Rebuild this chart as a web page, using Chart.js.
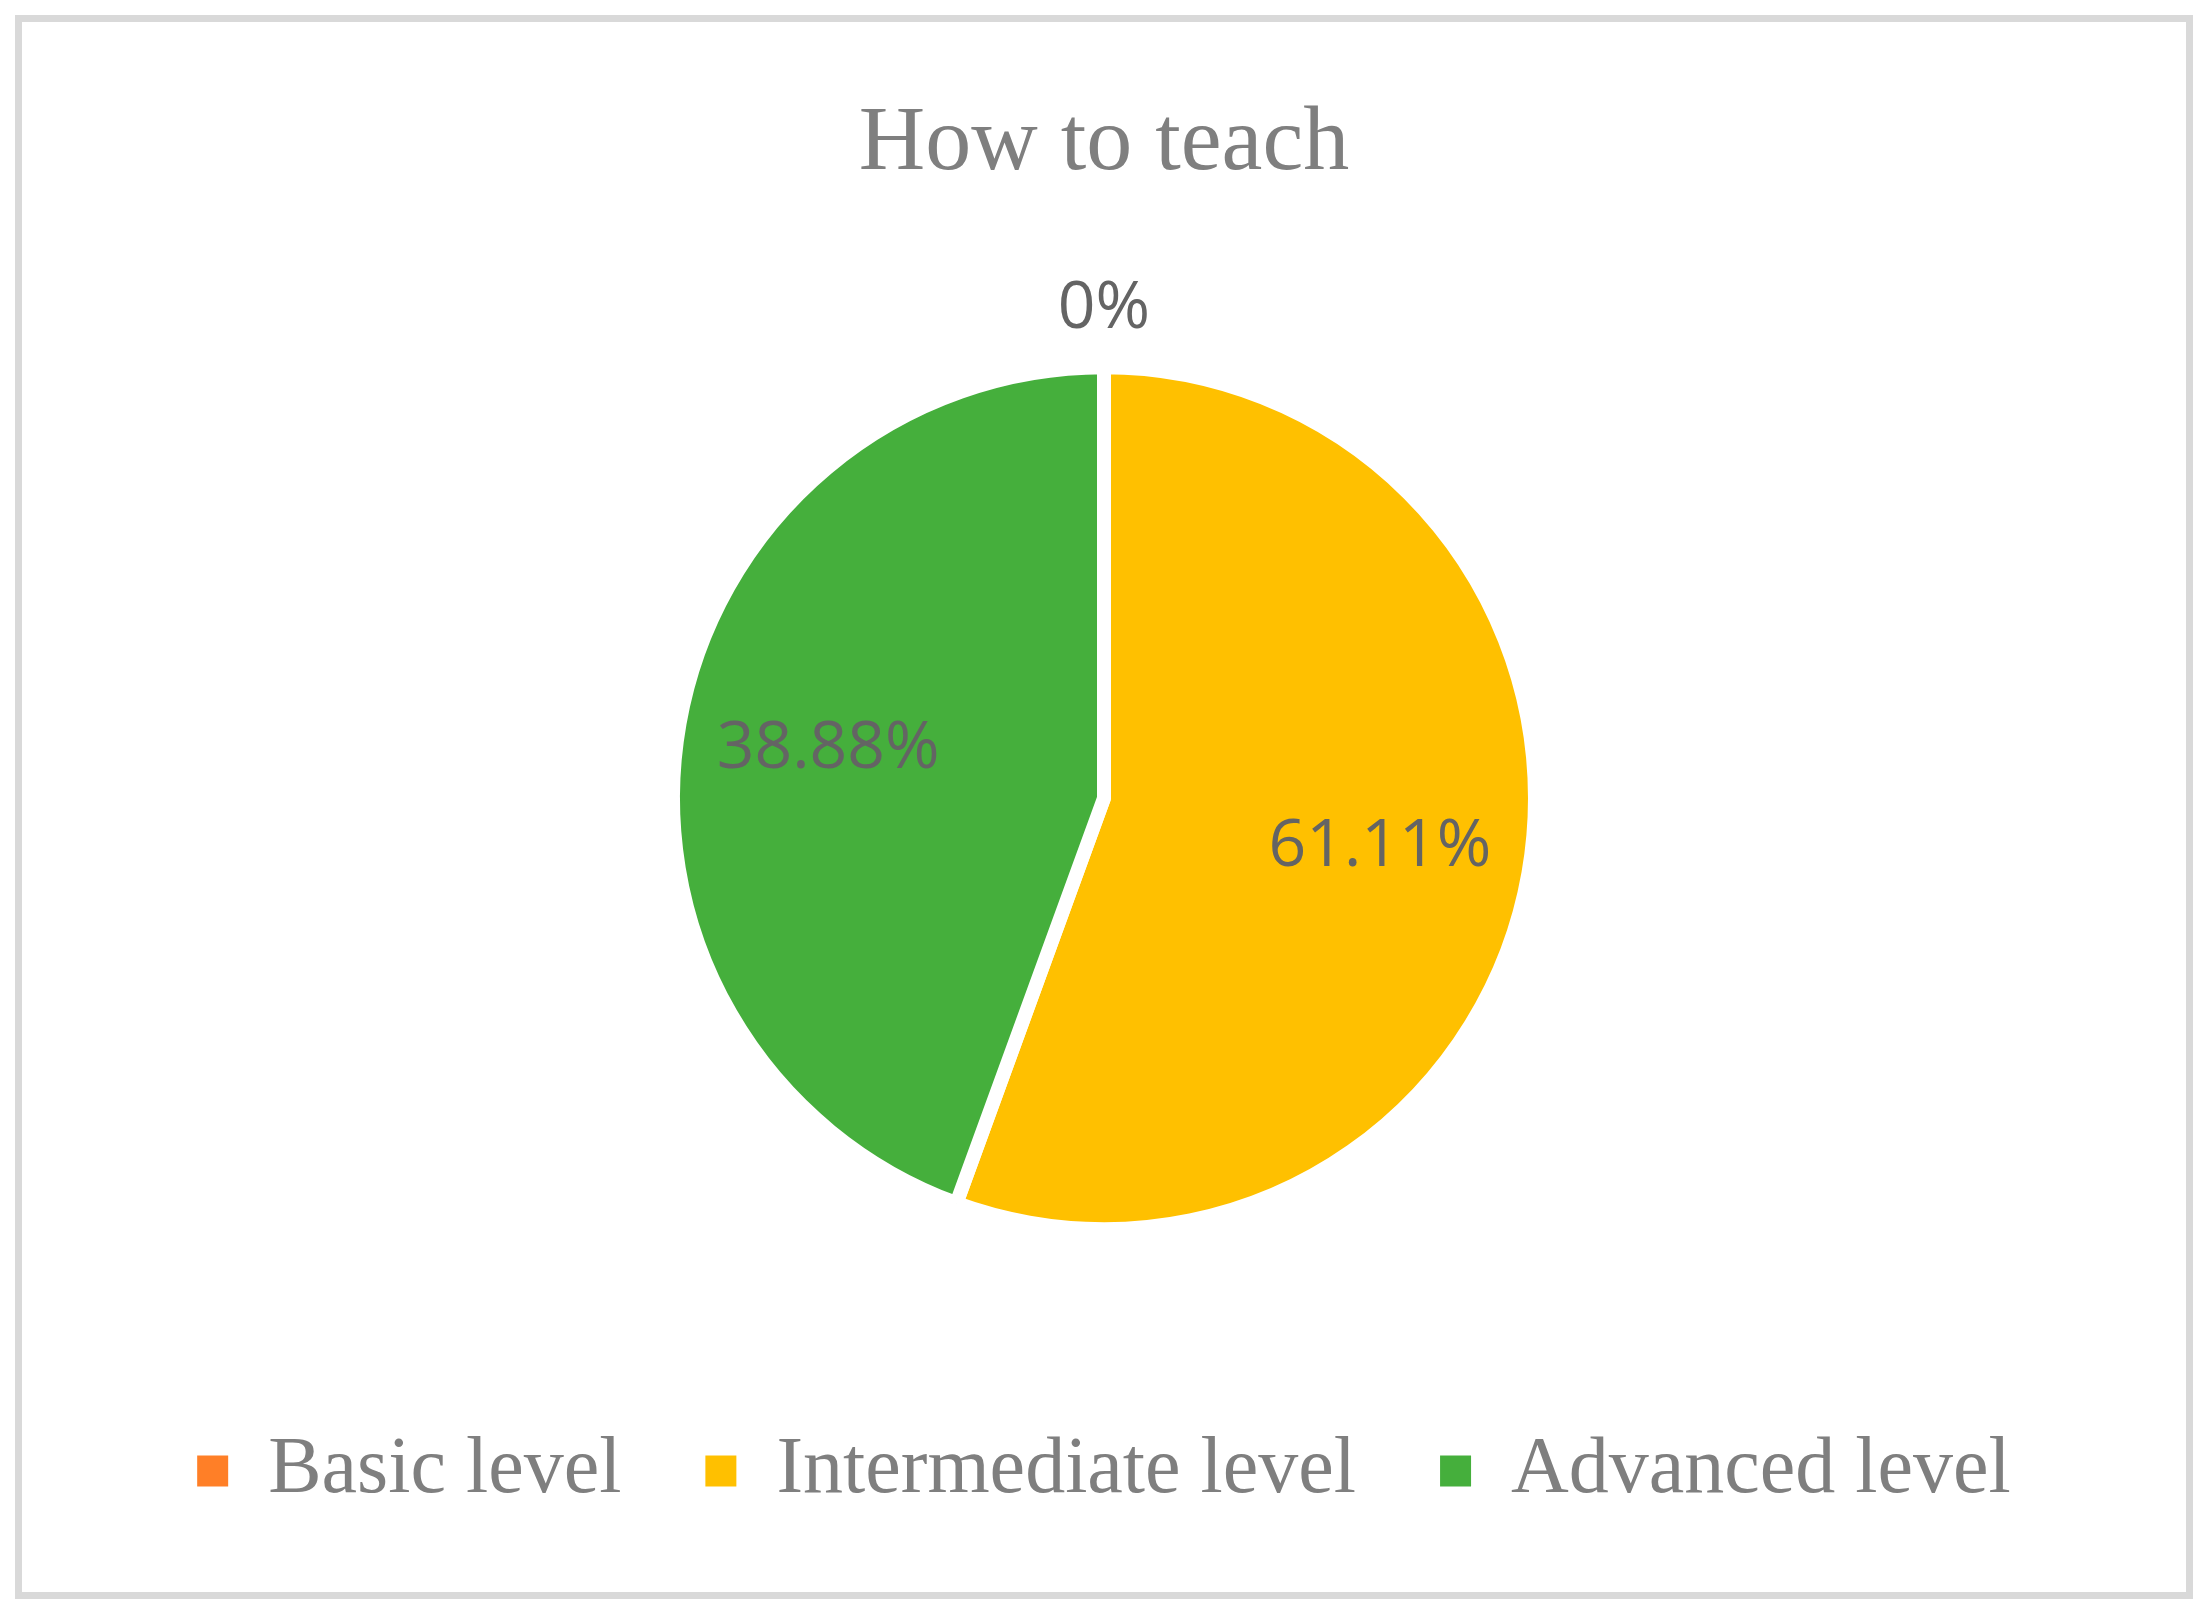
<!DOCTYPE html>
<html>
<head>
<meta charset="utf-8">
<script src="https://cdn.jsdelivr.net/npm/chart.js@4.4.0/dist/chart.umd.min.js"></script>
<style>
  html, body { margin: 0; padding: 0; background: #fff; }
  #frame {
    position: absolute; left: 15px; top: 15px;
    width: 2178px; height: 1584px;
    box-sizing: border-box; border: 7px solid #d9d9d9;
  }
  #chart { display: block; }
</style>
</head>
<body>
<div id="frame"><canvas id="chart" width="2164" height="1570"></canvas></div>
<script>
// categories and values (slice sizes as drawn, printed labels as shown)
const categories = ["Basic level", "Intermediate level", "Advanced level"];
const values = [0, 55.56, 44.44];
const sliceLabels = ["0%", "61.11%", "38.88%"];
const colors = ["#FF7F27", "#FFC000", "#45AF3C"];

const sliceLabelPlugin = {
  id: "sliceLabels",
  afterDatasetsDraw(chart) {
    const ctx = chart.ctx;
    const meta = chart.getDatasetMeta(0);
    ctx.save();
    ctx.font = '66px "Open Sans"';
    ctx.fillStyle = "#646464";
    ctx.textAlign = "center";
    ctx.textBaseline = "middle";
    meta.data.forEach((arc, i) => {
      const p = arc.getProps(["x", "y", "startAngle", "endAngle", "outerRadius"], true);
      const mid = (p.startAngle + p.endAngle) / 2;
      const dist = values[i] === 0 ? p.outerRadius + 58 : p.outerRadius * 0.65;
      ctx.fillText(sliceLabels[i], p.x + Math.cos(mid) * dist, p.y + Math.sin(mid) * dist);
    });
    ctx.restore();
  }
};

const ctx = document.getElementById("chart").getContext("2d");
new Chart(ctx, {
  type: "pie",
  data: {
    labels: categories,
    datasets: [{
      data: values,
      backgroundColor: colors,
      borderColor: "#ffffff",
      borderWidth: [0, 14, 14]
    }]
  },
  options: {
    responsive: false,
    animation: false,
    radius: 431,
    layout: { padding: { top: 0, bottom: 71 } },
    plugins: {
      title: {
        display: true,
        text: "How to teach",
        color: "#7f7f7f",
        font: { family: "Liberation Serif", size: 92, weight: "normal" },
        padding: { top: 68, bottom: 49 }
      },
      legend: {
        position: "bottom",
        labels: {
          color: "#7f7f7f",
          font: { family: "Liberation Serif", size: 80 },
          boxWidth: 31,
          boxHeight: 31,
          padding: 84,
          generateLabels(chart) {
            return categories.map((name, i) => ({
              text: name,
              fillStyle: colors[i],
              strokeStyle: colors[i],
              lineWidth: 0,
              fontColor: "#7f7f7f",
              hidden: false,
              index: i
            }));
          }
        }
      },
      tooltip: { enabled: false }
    }
  },
  plugins: [sliceLabelPlugin]
});
</script>
</body>
</html>
